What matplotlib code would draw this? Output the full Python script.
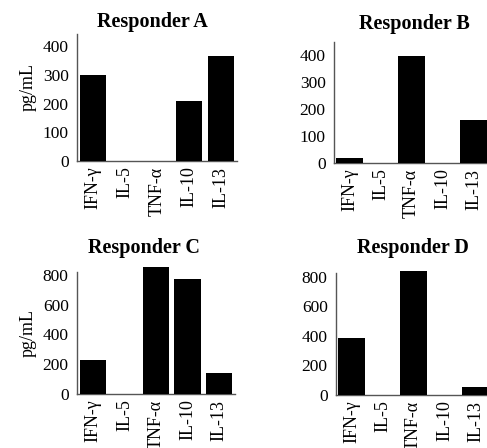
import matplotlib.pyplot as plt

# cytokine levels per responder (pg/mL)
cytokines = ['IFN-γ', 'IL-5', 'TNF-α', 'IL-10', 'IL-13']
resp_a = [300, 0, 0, 210, 366]
resp_b = [18, 0, 396, 0, 159]
resp_c = [228, 0, 852, 772, 141]
resp_d = [386, 0, 840, 0, 54]

panels = [
    # name, values, [left, bottom, width, height] in px, ymax, yticks, ylabel y, title (x, y)
    ('Responder A', resp_a, [77, 161, 160, 127], 442, [0, 100, 200, 300, 400], 87, (152, 22)),
    ('Responder B', resp_b, [334, 163, 155, 121], 448, [0, 100, 200, 300, 400], None, (414, 24)),
    ('Responder C', resp_c, [77, 394, 158, 122], 819, [0, 200, 400, 600, 800], 333, (144, 248)),
    ('Responder D', resp_d, [336, 395, 155, 122], 827, [0, 200, 400, 600, 800], None, (413, 248)),
]

W, H = 487, 448
plt.rcParams['font.family'] = ['Liberation Serif', 'DejaVu Serif']

fig = plt.figure(figsize=(W / 100, H / 100), dpi=100)

for name, vals, (l, b, w, h), ymax, yt, ylab_y, (tx, ty) in panels:
    ax = fig.add_axes([l / W, 1 - b / H, w / W, h / H])
    x = range(len(cytokines))
    ax.bar(x, vals, width=0.84, color='black', clip_on=False, zorder=3)
    ax.set_xlim(-0.5, len(cytokines) - 0.5)
    ax.set_ylim(0, ymax)
    ax.set_yticks(yt)
    ax.set_xticks(list(x))
    ax.set_xticklabels(cytokines, rotation=90, ha='center', va='top', fontsize=13)
    ax.tick_params(axis='y', length=0, pad=6, labelsize=12.5)
    ax.tick_params(axis='x', length=0, pad=4)
    for s in ['top', 'right']:
        ax.spines[s].set_visible(False)
    for s in ['left', 'bottom']:
        ax.spines[s].set_color('#555555')
        ax.spines[s].set_linewidth(1.0)
    if ylab_y is not None:
        fig.text(28 / W, 1 - ylab_y / H, 'pg/mL', rotation=90,
                 ha='center', va='center', fontsize=13)
    fig.text(tx / W, 1 - ty / H, name, ha='center', va='center',
             fontsize=14.5, fontweight='bold')

fig.savefig('out.png', dpi=100)
